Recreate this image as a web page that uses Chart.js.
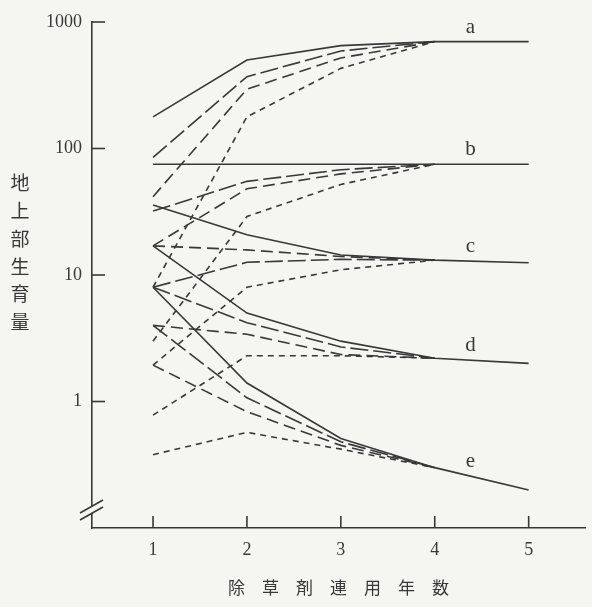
<!DOCTYPE html>
<html>
<head>
<meta charset="utf-8">
<script src="https://cdn.jsdelivr.net/npm/chart.js@4.4.1/dist/chart.umd.min.js"></script>
<style>
  html, body { margin: 0; padding: 0; background: #f5f5f2; }
  #wrap { width: 592px; height: 607px; }
</style>
</head>
<body>
<div id="wrap"><canvas id="chart" width="592" height="607"></canvas></div>
<script>
// Years of continuous herbicide use
const years = [1, 2, 3, 4, 5];
const yTicks = [1, 10, 100, 1000];
const groupNames = ['a', 'b', 'c', 'd', 'e'];

// Group a — converges to ~700
const a1 = [178, 500, 650, 700, 700];
const a2 = [85, 370, 590, 700, null];
const a3 = [41.6, 294, 520, 700, null];
const a4 = [8, 178, 430, 700, null];

// Group b — converges to ~75
const b1 = [75, 75, 75, 75, 75];
const b2 = [32, 55, 68, 75, null];
const b3 = [17, 48, 63, 75, null];
const b4 = [3, 29, 52, 75, null];

// Group c — converges to ~13
const c1 = [35.8, 20.8, 14.4, 13.1, 12.5];
const c2 = [17, 15.8, 14, 13.1, null];
const c3 = [8, 12.6, 13.3, 13.1, null];
const c4 = [1.94, 8, 11, 13.1, null];

// Group d — converges to ~2
const d1 = [17, 5.0, 3.0, 2.2, 2.0];
const d2 = [8, 4.2, 2.7, 2.2, null];
const d3 = [4, 3.4, 2.35, 2.2, null];
const d4 = [0.78, 2.3, 2.3, 2.2, null];

// Group e — converges to ~0.2
const e1 = [8, 1.40, 0.51, 0.30, 0.20];
const e2 = [4, 1.07, 0.48, 0.30, null];
const e3 = [1.94, 0.83, 0.45, 0.30, null];
const e4 = [0.38, 0.57, 0.42, 0.30, null];

const INK = '#383838';
const BG = '#f5f5f2';
const SERIF = '"Liberation Serif", "DejaVu Serif", serif';
const CJK = '"Noto Sans CJK JP", "Noto Sans CJK SC", sans-serif';

const DASH = {
  solid: [],
  long: [18, 5],
  mid: [12, 6],
  short: [6, 5]
};

function series(values, style) {
  return {
    data: years.map((x, i) => (values[i] == null ? null : { x: x, y: values[i] })).filter(p => p),
    borderColor: INK,
    borderWidth: 1.6,
    borderDash: DASH[style],
    pointRadius: 0,
    fill: false,
    tension: 0
  };
}

// main (solid) line of each group runs to year 5; used for letter placement
const mainLines = [a1, b1, c1, d1, e1];

const datasets = [
  series(a1, 'solid'), series(a2, 'long'), series(a3, 'mid'), series(a4, 'short'),
  series(b1, 'solid'), series(b2, 'long'), series(b3, 'mid'), series(b4, 'short'),
  series(c1, 'solid'), series(c2, 'mid'), series(c3, 'long'), series(c4, 'short'),
  series(d1, 'solid'), series(d2, 'long'), series(d3, 'mid'), series(d4, 'short'),
  series(e1, 'solid'), series(e2, 'long'), series(e3, 'mid'), series(e4, 'short')
];

const decorations = {
  id: 'decorations',
  beforeDraw(chart) {
    const ctx = chart.ctx;
    ctx.save();
    ctx.fillStyle = BG;
    ctx.fillRect(0, 0, chart.width, chart.height);
    ctx.restore();
  },
  afterDraw(chart) {
    const ctx = chart.ctx;
    const xs = chart.scales.x, ys = chart.scales.y;
    const area = chart.chartArea;
    ctx.save();
    ctx.strokeStyle = INK;
    ctx.lineWidth = 1.6;

    // inward tick marks
    yTicks.forEach(v => {
      const py = ys.getPixelForValue(v);
      ctx.beginPath();
      ctx.moveTo(area.left, py);
      ctx.lineTo(area.left + 13, py);
      ctx.stroke();
    });
    years.forEach(v => {
      const px = xs.getPixelForValue(v);
      ctx.beginPath();
      ctx.moveTo(px, area.bottom);
      ctx.lineTo(px, area.bottom - 12);
      ctx.stroke();
    });

    // axis break on the value axis
    const L = area.left, B = area.bottom;
    ctx.fillStyle = BG;
    ctx.beginPath();
    ctx.moveTo(L - 12, B - 15);
    ctx.lineTo(L + 11, B - 28);
    ctx.lineTo(L + 11, B - 21);
    ctx.lineTo(L - 12, B - 8);
    ctx.closePath();
    ctx.fill();
    ctx.beginPath();
    ctx.moveTo(L - 12, B - 15); ctx.lineTo(L + 11, B - 28);
    ctx.moveTo(L - 12, B - 8); ctx.lineTo(L + 11, B - 21);
    ctx.stroke();

    // group letters, placed just above each group's final line
    ctx.fillStyle = INK;
    ctx.font = '21px ' + SERIF;
    ctx.textAlign = 'center';
    ctx.textBaseline = 'alphabetic';
    const lx = 4.38;
    groupNames.forEach((name, i) => {
      const v4 = mainLines[i][3], v5 = mainLines[i][4];
      const t = lx - 4;
      const v = Math.pow(10, Math.log10(v4) * (1 - t) + Math.log10(v5) * t);
      ctx.fillText(name, xs.getPixelForValue(lx), ys.getPixelForValue(v) - 9);
    });

    // vertical value-axis title
    const title = '地上部生育量';
    ctx.font = '19px ' + CJK;
    ctx.textBaseline = 'middle';
    [...title].forEach((ch, i) => {
      ctx.fillText(ch, 20, 183 + i * 27.8);
    });
    ctx.restore();
  }
};

new Chart(document.getElementById('chart'), {
  type: 'line',
  data: { datasets: datasets },
  options: {
    responsive: false,
    animation: false,
    layout: { padding: { top: 22, right: 7, left: 0, bottom: 0 } },
    plugins: { legend: { display: false }, tooltip: { enabled: false } },
    scales: {
      x: {
        type: 'linear',
        min: 0.35,
        max: 5.6,
        grid: { display: false, drawTicks: false },
        border: { display: true, color: INK, width: 1.6 },
        afterBuildTicks: s => { s.ticks = years.map(v => ({ value: v })); },
        afterFit: s => { s.height = 79; },
        ticks: {
          padding: 11,
          color: INK,
          font: { family: SERIF, size: 18 },
          autoSkip: false,
          maxRotation: 0,
          callback: v => String(v)
        },
        title: {
          display: true,
          text: '除　草　剤　連　用　年　数',
          color: INK,
          font: { family: CJK, size: 17 },
          padding: { top: 0, bottom: 9 }
        }
      },
      y: {
        type: 'logarithmic',
        min: 0.1,
        max: 1000,
        grid: { display: false, drawTicks: false },
        border: { display: true, color: INK, width: 1.6 },
        afterBuildTicks: s => { s.ticks = yTicks.map(v => ({ value: v })); },
        afterFit: s => { s.width = 92; },
        ticks: {
          padding: 10,
          color: INK,
          font: { family: SERIF, size: 18 },
          autoSkip: false,
          callback: v => String(v)
        }
      }
    }
  },
  plugins: [decorations]
});
</script>
</body>
</html>
